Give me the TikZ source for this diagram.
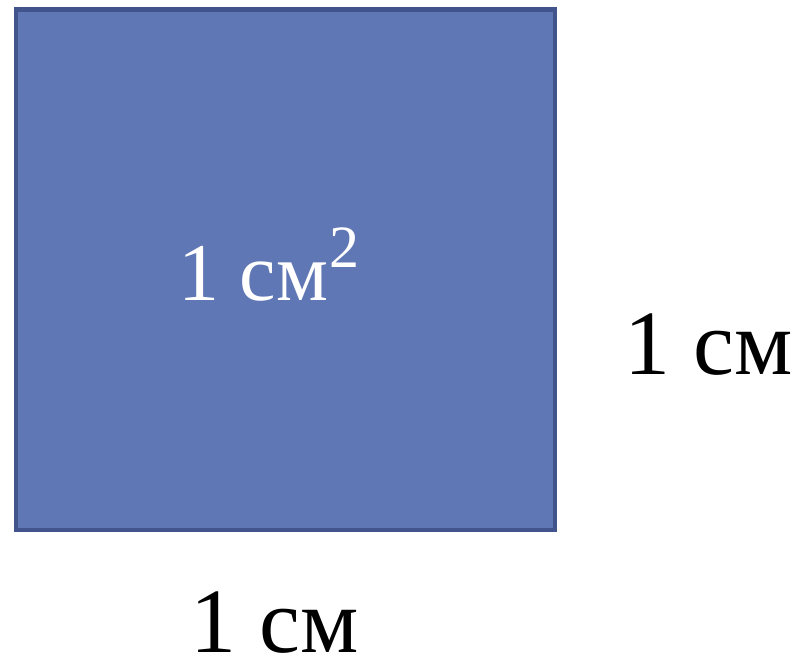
\documentclass[tikz,border=0pt]{standalone}
\usepackage{fontspec}
\setmainfont{Liberation Serif}
\definecolor{sqfill}{HTML}{6077B5}
\definecolor{sqedge}{HTML}{41558C}
\begin{document}
\begin{tikzpicture}[x=1pt,y=-1pt,
  lbl/.style={font=\fontsize{92}{96}\selectfont, text=black, inner sep=0pt, text depth=0pt, anchor=base west}]
\useasboundingbox (0,0) rectangle (799,663);
\node[draw=sqedge, line width=4.5pt, fill=sqfill, minimum width=539pt, minimum height=520pt, inner sep=0pt, anchor=north west] (sq) at (13.5,7.5) {};
\node[font=\fontsize{82}{86}\selectfont, text=white, inner sep=0pt, text depth=0pt, anchor=base west] (area) at (178,300) {1 см\kern2pt\raisebox{0.40em}{\fontsize{60}{62}\selectfont 2}};
\node[lbl] (side) at (624,374) {1 см};
\node[lbl] (bottom) at (190,652) {1 см};
\end{tikzpicture}
\end{document}
